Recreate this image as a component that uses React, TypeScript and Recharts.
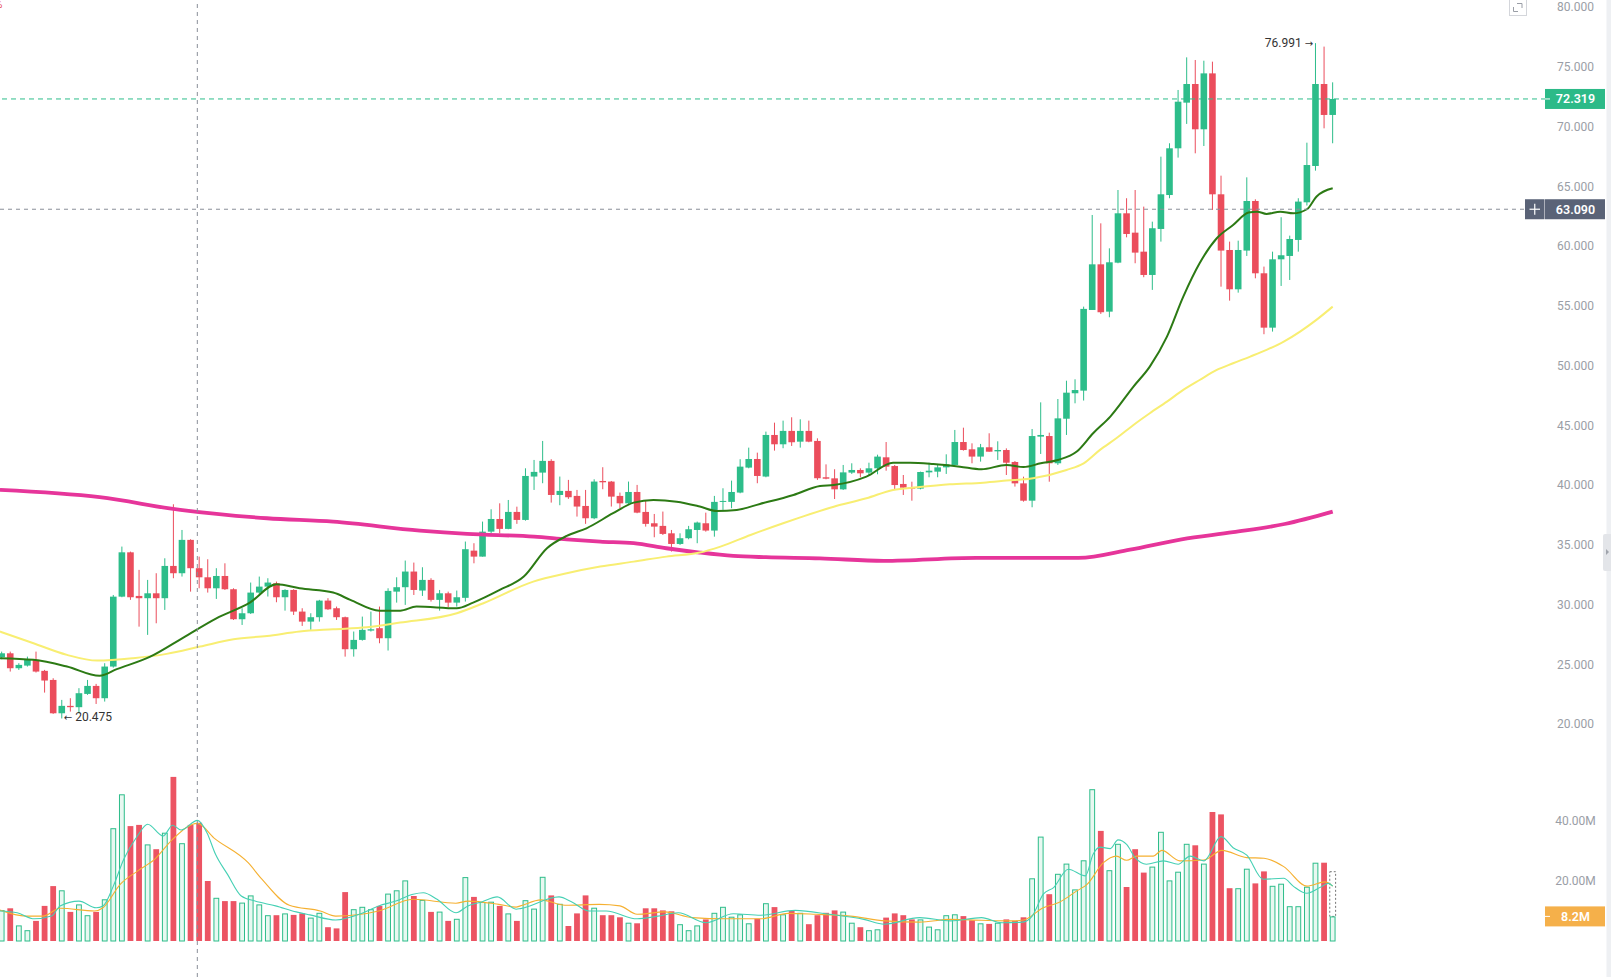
import React from 'react';
import {
  ComposedChart,
  Bar,
  Line,
  XAxis,
  YAxis,
  ReferenceLine,
  ReferenceDot,
  ReferenceArea,
} from 'recharts';

// ---- daily candles (index 0 = oldest visible session) ----
const opens = [
  25.6, 25.93, 24.68, 24.9, 25.38, 24.46, 23.7, 20.91, 21.53, 21.42,
  22.53, 23.2, 22.17, 24.82, 30.67, 34.38, 30.73, 30.54, 30.95, 30.54,
  33.24, 32.63, 35.42, 33.05, 32.29, 31.37, 32.4, 31.29, 28.78, 29.28,
  31.01, 31.51, 31.79, 30.62, 31.23, 29.42, 28.58, 28.95, 30.34, 29.7,
  28.95, 26.27, 27.05, 27.83, 28.03, 27.19, 31.09, 31.46, 32.77, 31.18,
  32.07, 30.4, 30.95, 30.17, 30.57, 34.52, 34.02, 36.11, 37.17, 36.34,
  37.76, 37.09, 40.72, 41.05, 42.03, 39.18, 39.52, 39.1, 38.26, 37.23,
  40.35, 40.3, 39.1, 38.48, 39.43, 37.76, 36.81, 36.59, 35.97, 35.08,
  35.56, 36.25, 36.81, 36.2, 38.6, 38.6, 39.38, 41.47, 42.19, 40.72,
  44.2, 43.42, 44.54, 43.64, 44.54, 43.7, 40.66, 40.57, 39.65, 41.05,
  41.27, 41.05, 41.41, 42.33, 41.6, 40.1, 39.82, 39.71, 41.07, 41.13,
  41.49, 41.69, 43.61, 43.0, 42.39, 43.17, 42.83, 42.94, 41.94, 40.15,
  38.7, 44.06, 44.11, 41.83, 45.56, 47.69, 47.91, 54.66, 58.48, 54.52,
  58.62, 62.75, 61.13, 59.54, 57.59, 61.44, 64.28, 68.19, 72.01, 73.57,
  69.78, 74.46, 64.34, 59.68, 56.39, 59.63, 63.78, 57.73, 53.18, 58.9,
  59.18, 60.52, 63.67, 66.71, 73.57, 70.98,
];
const highs = [
  26.07, 26.07, 25.1, 25.65, 26.07, 24.54, 23.84, 22.03, 22.17, 23.01,
  23.7, 23.37, 25.1, 30.81, 34.86, 34.44, 32.91, 32.07, 32.63, 33.88,
  38.4, 36.25, 35.47, 34.02, 33.8, 33.05, 33.46, 31.37, 29.7, 31.85,
  32.35, 32.21, 31.93, 31.29, 31.29, 29.7, 29.28, 30.4, 30.54, 29.84,
  29.0, 27.75, 29.0, 29.42, 29.84, 31.37, 32.29, 33.69, 33.52, 33.13,
  32.21, 31.23, 31.09, 31.18, 35.28, 35.14, 36.95, 37.98, 38.48, 38.76,
  38.2, 41.41, 42.11, 43.7, 42.17, 40.72, 40.44, 39.6, 39.6, 40.49,
  41.5, 40.35, 39.38, 40.3, 40.02, 38.76, 37.59, 37.79, 36.25, 35.97,
  36.59, 36.95, 37.7, 39.1, 39.74, 40.38, 42.17, 43.14, 42.72, 44.48,
  45.23, 45.4, 45.68, 45.51, 45.4, 43.92, 41.74, 41.33, 41.69, 41.83,
  41.41, 41.88, 42.55, 43.61, 41.69, 40.85, 40.29, 41.13, 41.88, 41.69,
  42.58, 44.62, 44.81, 43.5, 43.45, 44.34, 43.67, 43.08, 42.02, 40.71,
  44.7, 46.93, 44.39, 47.21, 48.74, 48.86, 54.94, 62.61, 61.91, 59.82,
  64.7, 64.01, 64.7, 63.31, 62.05, 67.49, 68.61, 73.07, 75.8, 75.58,
  75.52, 75.44, 65.9, 60.38, 60.46, 65.76, 63.92, 58.29, 59.54, 62.42,
  60.88, 64.01, 68.66, 76.991, 76.7, 73.71,
];
const lows = [
  25.43, 24.4, 24.54, 24.82, 24.32, 22.64, 20.86, 20.475, 21.05, 20.91,
  22.45, 21.69, 21.89, 24.73, 30.62, 30.4, 28.16, 27.47, 28.44, 29.56,
  32.21, 32.35, 31.09, 31.37, 31.01, 30.48, 31.23, 28.72, 28.3, 29.22,
  30.9, 30.68, 30.2, 29.5, 29.14, 28.22, 27.89, 28.58, 29.56, 28.72,
  25.65, 25.65, 26.99, 27.75, 26.77, 26.16, 30.17, 29.98, 30.81, 30.73,
  30.26, 29.5, 29.78, 29.84, 30.26, 33.46, 34.02, 35.97, 35.97, 36.31,
  36.76, 37.03, 39.6, 40.16, 38.54, 38.32, 38.85, 37.37, 36.76, 37.15,
  39.66, 38.21, 38.07, 38.43, 37.65, 36.53, 35.64, 35.83, 34.44, 35.0,
  35.47, 35.14, 36.11, 35.69, 37.93, 38.07, 39.32, 41.41, 40.16, 40.66,
  42.89, 43.09, 43.28, 43.14, 43.59, 40.44, 40.49, 38.84, 39.6, 40.94,
  40.66, 40.77, 40.91, 41.21, 39.6, 39.18, 38.7, 39.65, 40.66, 40.66,
  40.94, 41.69, 42.89, 41.83, 41.97, 42.8, 42.11, 40.85, 39.88, 38.62,
  38.15, 42.61, 40.29, 41.69, 44.2, 46.85, 47.08, 54.66, 54.33, 54.05,
  58.57, 60.74, 58.57, 57.4, 56.34, 60.38, 64.01, 67.41, 70.23, 67.77,
  68.38, 63.03, 56.61, 55.44, 56.11, 59.18, 57.31, 52.63, 52.85, 56.67,
  57.17, 59.54, 63.4, 66.32, 69.86, 68.61,
];
const closes = [
  25.93, 24.68, 24.96, 25.38, 24.4, 23.65, 20.91, 21.53, 21.42, 22.59,
  23.2, 22.17, 24.82, 30.67, 34.38, 30.62, 30.54, 30.95, 30.54, 33.24,
  32.63, 35.42, 33.05, 32.29, 31.37, 32.4, 31.29, 28.78, 29.28, 31.01,
  31.51, 31.85, 30.62, 31.23, 29.42, 28.58, 28.95, 30.34, 29.61, 28.95,
  26.27, 27.05, 27.89, 27.94, 27.19, 31.15, 31.46, 32.77, 31.23, 32.07,
  30.4, 30.95, 30.17, 30.62, 34.64, 34.02, 36.11, 37.17, 36.34, 37.76,
  37.09, 40.77, 41.11, 42.03, 39.18, 39.52, 38.99, 38.21, 37.23, 40.3,
  40.24, 39.04, 38.48, 39.43, 37.7, 36.76, 36.53, 35.92, 35.08, 35.56,
  36.31, 36.87, 36.2, 38.6, 38.68, 39.43, 41.55, 42.19, 40.77, 44.2,
  43.42, 44.54, 43.59, 44.54, 43.64, 40.58, 40.54, 39.65, 41.07, 41.27,
  40.99, 41.41, 42.39, 41.55, 40.01, 39.79, 39.71, 41.1, 41.21, 41.49,
  41.74, 43.61, 42.94, 42.39, 43.17, 42.8, 42.94, 41.88, 40.15, 38.7,
  44.11, 44.2, 41.83, 45.59, 47.74, 47.96, 54.75, 58.48, 54.47, 58.65,
  62.75, 61.02, 59.46, 57.59, 61.5, 64.34, 68.19, 72.09, 73.57, 69.78,
  74.46, 64.34, 59.63, 56.39, 59.68, 63.78, 57.73, 53.18, 58.9, 59.24,
  60.6, 63.73, 66.79, 73.57, 70.98, 72.319,
];
// volume in millions
const volumes = [
  10.3, 10.9, 5.2, 3.6, 6.7, 11.7, 18.3, 16.9, 9.7, 12.2,
  8.6, 9.7, 13.9, 37.6, 48.9, 38.3, 38.7, 32.2, 30.6, 36.1,
  54.7, 32.6, 38.7, 39.4, 20.0, 14.4, 13.3, 13.3, 12.8, 15.2,
  12.2, 8.6, 8.6, 9.2, 8.7, 9.2, 7.8, 9.4, 4.6, 4.2,
  16.3, 10.6, 11.4, 10.6, 11.7, 15.8, 16.9, 20.2, 15.0, 13.7,
  9.7, 9.8, 6.7, 7.4, 21.3, 14.7, 13.0, 13.1, 11.7, 9.2,
  6.7, 13.6, 10.8, 21.4, 15.2, 12.4, 5.0, 9.2, 15.2, 11.1,
  8.6, 8.6, 7.9, 6.1, 5.9, 10.9, 10.9, 10.2, 9.9, 5.6,
  3.6, 5.2, 7.2, 9.4, 11.4, 8.1, 8.9, 5.9, 7.4, 12.6,
  11.3, 8.9, 10.0, 9.4, 5.6, 8.6, 9.4, 10.2, 9.8, 6.1,
  4.6, 3.6, 3.9, 7.8, 9.2, 8.6, 7.2, 7.2, 4.8, 3.9,
  8.6, 8.9, 8.3, 6.9, 5.9, 5.7, 6.1, 7.2, 6.7, 7.9,
  20.9, 34.8, 15.6, 22.4, 25.8, 17.2, 26.9, 50.6, 36.7, 23.6,
  32.4, 18.0, 30.6, 22.8, 24.8, 36.4, 20.2, 23.1, 32.4, 31.9,
  25.8, 43.0, 42.2, 17.6, 17.6, 24.1, 19.2, 23.2, 18.4, 19.1,
  11.6, 11.6, 18.1, 26.1, 26.1, 8.2,
];

// ---- moving averages, [session index, value] ----
const ma20Points = [
  [-0.2, 25.52], [3.7, 25.38], [7.6, 24.82], [11.4, 24.04], [13.4, 24.6], [17.3, 25.65],
  [21.2, 27.27], [25, 28.86], [28.9, 30.17], [32, 31.71], [34.7, 31.37], [38.6, 31.01],
  [40.6, 30.4], [44, 29.5], [46.4, 29.5], [48.3, 29.84], [53, 29.7], [54.9, 30.17],
  [58, 31.23], [60.8, 32.35], [63.5, 34.72], [65.8, 35.75], [68.1, 36.39], [71.2, 37.65],
  [73.6, 38.54], [75.9, 38.76], [78.6, 38.62], [81.3, 38.21], [83.3, 37.84], [85.6, 37.93],
  [88.3, 38.43], [92.2, 39.18], [95.3, 39.93], [96.9, 40.01], [100.7, 40.71], [103.8, 41.88],
  [105.8, 41.88], [108.5, 41.77], [111.6, 41.55], [114.1, 41.33], [117, 41.69], [119, 41.52],
  [121, 41.83], [123, 42.11], [125.2, 42.81], [127.1, 44.34], [129.1, 45.74], [131.8, 48.25],
  [133.7, 49.92], [135.7, 52.43], [137.6, 55.78], [139.5, 58.57], [141.5, 60.66], [143.4, 61.77],
  [145.2, 62.81], [146.2, 62.89], [147.3, 62.7], [148.9, 62.89], [150.4, 62.75], [152, 63.09],
  [153.1, 64.14], [155, 64.84],
];
const ma50Points = [
  [-0.2, 27.75], [3.7, 26.77], [7.6, 25.8], [11.1, 25.32], [15.3, 25.52], [19.2, 25.88],
  [23.1, 26.49], [27, 27.11], [30.9, 27.38], [34.7, 27.75], [38.6, 27.94], [42.5, 28.11],
  [46.4, 28.5], [53, 29.28], [56.1, 30.12], [61.9, 31.93], [65.8, 32.63], [69.7, 33.19],
  [73.6, 33.6], [77.4, 34.02], [81.3, 34.36], [83.7, 34.86], [87.2, 35.83], [91, 36.81],
  [93, 37.3], [96.9, 38.2], [100.7, 38.9], [103.8, 39.6], [106.6, 39.82], [110.4, 40.07],
  [114.3, 40.21], [117, 40.38], [120.1, 40.58], [124, 41.27], [126, 41.83], [127.9, 42.95],
  [129.8, 43.92], [131.8, 45.04], [133.7, 46.02], [135.7, 46.99], [137.6, 47.97], [139.5, 48.8],
  [141.5, 49.64], [143.4, 50.2], [145.4, 50.76], [147.3, 51.32], [149.3, 52.01], [151.2, 52.85],
  [153.1, 53.83], [155, 54.94],
];
const ma200Points = [
  [-0.2, 39.6], [11.4, 38.99], [20.8, 37.93], [30.9, 37.23], [38.6, 36.95], [48.7, 36.2],
  [54.2, 35.92], [62, 35.69], [65.8, 35.47], [69.7, 35.28], [73.6, 35.14], [77.4, 34.72],
  [81.3, 34.36], [85.2, 34.08], [89, 33.97], [95.3, 33.88], [102.7, 33.66], [113.5, 33.91],
  [125.4, 33.91], [131.4, 34.6], [137.4, 35.46], [143.4, 36.06], [149.4, 36.75], [155, 37.79],
];
const volMa5Points = [
  [-0.2, 10.0], [1.8, 9.4], [3.8, 7.4], [5.8, 8.3], [6.8, 11.7], [9, 13.3], [11, 11.1],
  [11.8, 11.7], [13, 18.3], [14.2, 27.2], [15.8, 35.0], [17, 38.9], [18.8, 35.0], [19.9, 38.6],
  [20.9, 37.0], [22.8, 40.2], [23.9, 36.1], [24.9, 28.9], [26.3, 22.2], [27.9, 15.0],
  [29.5, 13.3], [31.9, 11.7], [34.3, 9.7], [35.9, 8.7], [38.9, 7.0], [41.9, 9.2], [43.9, 11.7],
  [45.9, 13.3], [47.9, 15.6], [49.1, 16.1], [50.7, 13.9], [52.9, 9.4], [54.3, 11.7], [55.9, 13.0],
  [57.7, 14.7], [59.9, 10.6], [60.4, 10.8], [64.9, 14.7], [66.4, 13.0], [68.4, 10.0], [70.4, 10.0],
  [74, 7.4], [76.4, 8.3], [78.8, 9.4], [82, 6.1], [85.2, 9.1], [88.4, 8.6], [92.4, 10.2],
  [96.4, 8.9], [100.4, 7.2], [102.8, 5.6], [106.9, 7.8], [110.5, 6.7], [114.1, 7.8], [116.5, 6.1],
  [118.9, 6.3], [120, 8.3], [121.3, 15.6], [122.5, 17.8], [124.2, 23.9], [126.2, 21.7],
  [127.1, 28.9], [127.9, 31.3], [129.1, 30.8], [130, 33.7], [131, 32.2], [132, 27.8],
  [133.3, 25.6], [135.3, 26.7], [137, 25.6], [138.4, 28.3], [140, 26.7], [142, 34.8],
  [143.4, 31.1], [145, 28.6], [146.9, 20.6], [149.3, 20.9], [150.4, 18.3], [152, 15.9],
  [153.5, 17.8], [154.5, 19.2], [155, 18.3],
];
const volMa10Points = [
  [-0.2, 10.3], [2.8, 8.3], [4.8, 8.3], [6.8, 10.9], [10.8, 10.0], [11.8, 11.1], [13.8, 18.9],
  [15.8, 23.3], [17.8, 27.2], [19.9, 33.9], [22.8, 39.2], [24.7, 34.4], [28.7, 26.1],
  [30.3, 20.6], [33.5, 11.9], [37.1, 10.0], [38.9, 8.3], [43.9, 10.0], [47.9, 13.9],
  [52.9, 12.6], [54.3, 13.3], [57.9, 12.2], [59.9, 11.3], [60.4, 11.7], [62.8, 13.7],
  [65.6, 11.9], [69.6, 12.2], [72, 11.7], [74, 8.9], [77.2, 9.7], [80.4, 7.8], [84.4, 7.4],
  [88.4, 7.4], [91.6, 9.2], [94.8, 8.9], [98.8, 8.3], [102.9, 6.7], [106.9, 6.3], [110.5, 7.2],
  [114.1, 6.9], [117.7, 6.7], [119, 7.0], [121.3, 11.1], [123.1, 12.8], [125.2, 16.7],
  [126.4, 18.9], [128.3, 26.1], [129.8, 28.3], [131, 26.9], [132.2, 28.3], [134.1, 28.3],
  [135.1, 30.2], [137.2, 26.7], [140, 27.0], [142.1, 30.2], [145, 27.8], [147, 27.6],
  [149.3, 24.8], [152, 18.3], [154.1, 19.7], [155, 18.3],
];

const PRICE_TICKS = [20, 25, 30, 35, 40, 45, 50, 55, 60, 65, 70, 75, 80];
const VOLUME_TICKS = [20, 40];
const LAST_PRICE = 72.319;
const CURSOR_PRICE = 63.09;
const CURSOR_INDEX = 22.78;
const PEAK_INDEX = 153;
const PEAK_PRICE = 76.991;
const TROUGH_INDEX = 7;
const TROUGH_PRICE = 20.475;
const LAST_VOLUME = 8.2;
const PROJECTED_VOLUME = 23.1;

// ---- styling ----
const UP = '#2DBD8A';
const DOWN = '#EB4D5C';
const AXIS_TEXT = '#9A9EA6';
const FONT = 'Roboto, Arial, sans-serif';
const ARROW_FONT = '"DejaVu Sans", sans-serif';
const X_MIN = -0.198;
const X_MAX = 179.84;
const WIDTH = 1611;
const AXIS_WIDTH = 65;
const LABEL_X = 1575.5;
const BADGE_X = 1546;
const BADGE_W = 59;

const candles = opens.map((open, i) => ({
  i,
  open,
  high: highs[i],
  low: lows[i],
  close: closes[i],
  vol: volumes[i],
}));

const toPoints = (pts: number[][]) => pts.map(([i, v]) => ({ i, v }));
const ma20 = toPoints(ma20Points);
const ma50 = toPoints(ma50Points);
const ma200 = toPoints(ma200Points);
const volMa5 = toPoints(volMa5Points);
const volMa10 = toPoints(volMa10Points);

function Candle(props: any) {
  const { x, y, width, height, payload } = props;
  if (!payload || height == null) return null;
  const { open, close, high, low } = payload;
  const color = close >= open ? UP : DOWN;
  const cx = x + width / 2;
  const k = high > low ? height / (high - low) : 0;
  const yOpen = y + (high - open) * k;
  const yClose = y + (high - close) * k;
  const top = Math.min(yOpen, yClose);
  const bodyH = Math.max(1, Math.abs(yOpen - yClose));
  return (
    <g>
      <line x1={cx} x2={cx} y1={y} y2={y + height} stroke={color} strokeWidth={1} />
      <rect x={cx - 3.3} y={top} width={6.6} height={bodyH} fill={color} />
    </g>
  );
}

function VolumeBar(props: any) {
  const { x, y, width, height, payload } = props;
  if (!payload || !height) return null;
  const cx = x + width / 2;
  if (payload.close >= payload.open) {
    return (
      <rect
        x={cx - 2.4}
        y={y + 0.5}
        width={4.8}
        height={Math.max(0, height - 0.5)}
        fill="#E8F8F1"
        stroke={UP}
        strokeWidth={1}
      />
    );
  }
  return <rect x={cx - 2.9} y={y} width={5.8} height={height} fill="#EC5463" />;
}

function PriceTick(props: any) {
  const { y, payload } = props;
  return (
    <text x={LABEL_X} y={y} dy={4.2} textAnchor="middle" fontSize={12} fill={AXIS_TEXT} fontFamily={FONT}>
      {Number(payload.value).toFixed(3)}
    </text>
  );
}

function VolumeTick(props: any) {
  const { y, payload } = props;
  return (
    <text x={LABEL_X} y={y} dy={4.2} textAnchor="middle" fontSize={12} fill={AXIS_TEXT} fontFamily={FONT}>
      {Number(payload.value).toFixed(2) + 'M'}
    </text>
  );
}

function Badge(props: any) {
  const { cy, text, color, cross } = props;
  if (cy == null) return null;
  return (
    <g>
      {cross ? (
        <g>
          <rect x={1525} y={cy - 10} width={19.5} height={20} fill={color} />
          <line x1={1529.5} x2={1540} y1={cy} y2={cy} stroke="#fff" strokeWidth={1.2} />
          <line x1={1534.75} x2={1534.75} y1={cy - 5.5} y2={cy + 5.5} stroke="#fff" strokeWidth={1.2} />
        </g>
      ) : null}
      <rect x={BADGE_X - 1} y={cy - 10} width={BADGE_W + 1} height={20} fill={color} />
      {!cross ? <line x1={BADGE_X - 1} x2={BADGE_X + 4} y1={cy} y2={cy} stroke="#fff" strokeWidth={1} /> : null}
      <text
        x={LABEL_X}
        y={cy}
        dy={4.4}
        textAnchor="middle"
        fontSize={12.5}
        fontWeight={600}
        fill="#fff"
        fontFamily={FONT}
      >
        {text}
      </text>
    </g>
  );
}

function PeakLabel(props: any) {
  const { cx, cy } = props;
  if (cx == null) return null;
  return (
    <text x={cx - 2.5} y={cy} dy={4} textAnchor="end" fontSize={12} fill="#333" fontFamily={FONT}>
      {PEAK_PRICE.toFixed(3) + ' '}
      <tspan fontFamily={ARROW_FONT} fontSize={10}>{'\u2192'}</tspan>
    </text>
  );
}

function TroughLabel(props: any) {
  const { cx, cy } = props;
  if (cx == null) return null;
  return (
    <text x={cx + 2} y={cy} dy={3} textAnchor="start" fontSize={12} fill="#333" fontFamily={FONT}>
      <tspan fontFamily={ARROW_FONT} fontSize={10}>{'\u2190'}</tspan>
      {' ' + TROUGH_PRICE.toFixed(3)}
    </text>
  );
}

export default function App() {
  return (
    <div
      style={{
        position: 'absolute',
        left: 0,
        top: 0,
        width: WIDTH,
        height: 977,
        overflow: 'hidden',
        background: '#fff',
        fontFamily: FONT,
      }}
    >
      <div style={{ position: 'absolute', left: 0, top: 0 }}>
        <ComposedChart width={WIDTH} height={760} data={candles} margin={{ top: 0, right: 0, bottom: 0, left: 0 }}>
          <XAxis type="number" dataKey="i" domain={[X_MIN, X_MAX]} allowDataOverflow hide />
          <YAxis
            orientation="right"
            width={AXIS_WIDTH}
            domain={[17, 80.6]}
            ticks={PRICE_TICKS}
            interval={0}
            axisLine={false}
            tickLine={false}
            tick={<PriceTick />}
            allowDataOverflow
          />
          <Bar dataKey={(d: any) => [d.low, d.high]} shape={<Candle />} barSize={7} isAnimationActive={false} />
          <Line data={ma200} dataKey="v" type="monotone" stroke="#E6359A" strokeWidth={3.8} dot={false} activeDot={false} isAnimationActive={false} />
          <Line data={ma50} dataKey="v" type="monotone" stroke="#F8EE72" strokeWidth={2} dot={false} activeDot={false} isAnimationActive={false} />
          <Line data={ma20} dataKey="v" type="monotone" stroke="#2C7A14" strokeWidth={2} dot={false} activeDot={false} isAnimationActive={false} />
          <ReferenceLine y={LAST_PRICE} stroke={UP} strokeDasharray="5 4" strokeWidth={1} />
          <ReferenceLine
            segment={[{ x: X_MIN, y: CURSOR_PRICE }, { x: 177.4, y: CURSOR_PRICE }]}
            stroke="#8A8F99"
            strokeDasharray="4 4"
            strokeWidth={1}
          />
          <ReferenceLine x={CURSOR_INDEX} stroke="#8A8F99" strokeDasharray="4 4" strokeWidth={1} />
          <ReferenceDot x={PEAK_INDEX} y={PEAK_PRICE} r={0} shape={<PeakLabel />} />
          <ReferenceDot x={TROUGH_INDEX} y={TROUGH_PRICE} r={0} shape={<TroughLabel />} />
          <ReferenceDot x={178} y={LAST_PRICE} r={0} shape={<Badge text={LAST_PRICE.toFixed(3)} color="#2CBA88" />} />
          <ReferenceDot x={178} y={CURSOR_PRICE} r={0} shape={<Badge text={CURSOR_PRICE.toFixed(3)} color="#5A6377" cross />} />
        </ComposedChart>
      </div>

      <div style={{ position: 'absolute', left: 0, top: 760 }}>
        <ComposedChart width={WIDTH} height={217} data={candles} margin={{ top: 0, right: 0, bottom: 0, left: 0 }}>
          <XAxis type="number" dataKey="i" domain={[X_MIN, X_MAX]} allowDataOverflow hide />
          <YAxis
            orientation="right"
            width={AXIS_WIDTH}
            domain={[-12, 60.333]}
            ticks={VOLUME_TICKS}
            interval={0}
            axisLine={false}
            tickLine={false}
            tick={<VolumeTick />}
            allowDataOverflow
          />
          <Bar dataKey="vol" shape={<VolumeBar />} barSize={6} isAnimationActive={false} />
          <ReferenceArea
            x1={154.66}
            x2={155.34}
            y1={LAST_VOLUME}
            y2={PROJECTED_VOLUME}
            fill="none"
            stroke="#777"
            strokeDasharray="2 2"
            strokeWidth={1}
          />
          <Line data={volMa10} dataKey="v" type="monotone" stroke="#F5B031" strokeWidth={1.1} dot={false} activeDot={false} isAnimationActive={false} />
          <Line data={volMa5} dataKey="v" type="monotone" stroke="#45D0B4" strokeWidth={1.1} dot={false} activeDot={false} isAnimationActive={false} />
          <ReferenceLine x={CURSOR_INDEX} stroke="#8A8F99" strokeDasharray="4 4" strokeWidth={1} />
          <ReferenceDot x={178} y={LAST_VOLUME} r={0} shape={<Badge text={LAST_VOLUME.toFixed(1) + 'M'} color="#F5B04A" />} />
        </ComposedChart>
      </div>

      {/* percent marker, expand control and side rail */}
      <svg width={WIDTH} height={977} style={{ position: 'absolute', left: 0, top: 0, pointerEvents: 'none' }}>
        <text x={-5} y={8} fontSize={10} fill="#E8434F" fontFamily={FONT}>%</text>
        <rect x={1509.5} y={-1} width={17} height={16.5} fill="#fff" stroke="#D4D6DB" strokeWidth={1} />
        <path d="M1517 3.5 H1522 V8" fill="none" stroke="#9A9EA6" strokeWidth={1} />
        <path d="M1513.5 7 V11.5 H1518" fill="none" stroke="#9A9EA6" strokeWidth={1} />
        <rect x={1606.5} y={0} width={4.5} height={977} fill="#EEF0F3" />
        <rect x={1603} y={534} width={10} height={37} rx={2} fill="#E3E5E9" />
        <path d="M1606 549 L1609 552 L1606 555 Z" fill="#A0A4AC" />
        <text x={1560} y={990} fontSize={12} fill={AXIS_TEXT} fontFamily={FONT}>80.00</text>
      </svg>
    </div>
  );
}
